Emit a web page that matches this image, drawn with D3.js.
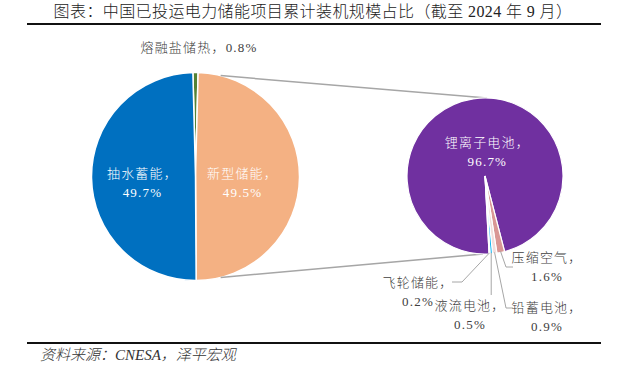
<!DOCTYPE html>
<html>
<head>
<meta charset="utf-8">
<script src="https://cdn.jsdelivr.net/npm/d3@7"></script>
<style>
  body { margin: 0; background: #fff; }
  text { font-family: "Liberation Serif", "Noto Sans CJK SC", serif; font-weight: 300; }
</style>
</head>
<body>
<div id="chart"></div>
<script>
// data (percent)
const mainCats = ["熔融盐储热", "新型储能", "抽水蓄能"];
const mainVals = [0.8, 49.5, 49.7];
const subCats = ["锂离子电池", "压缩空气", "铅蓄电池", "液流电池", "飞轮储能"];
const subVals = [96.7, 1.6, 0.9, 0.5, 0.2];

const title = "图表：中国已投运电力储能项目累计装机规模占比（截至 2024 年 9 月）";
const source = "资料来源：CNESA，泽平宏观";

const mainColors = ["#548235", "#F4B183", "#0070C0"];
const subColors = ["#7030A0", "#D99694", "#F2DCDB", "#00B0F0", "#BFBFBF"];

const W = 633, H = 381;
const svg = d3.select("#chart").append("svg")
  .attr("width", W).attr("height", H)
  .style("background", "#fff");

// title + rules
svg.append("text")
  .attr("x", 313).attr("y", 17)
  .attr("text-anchor", "middle")
  .attr("font-size", 16)
  .attr("letter-spacing", 0.4)
  .attr("fill", "#222")
  .text(title);
svg.append("line").attr("x1", 27).attr("x2", 601).attr("y1", 24).attr("y2", 24)
  .attr("stroke", "#111").attr("stroke-width", 2);
svg.append("line").attr("x1", 27).attr("x2", 601).attr("y1", 343).attr("y2", 343)
  .attr("stroke", "#111").attr("stroke-width", 2);
svg.append("text")
  .attr("x", 40).attr("y", 360)
  .attr("font-size", 15)
  .attr("font-style", "italic")
  .attr("fill", "#333")
  .text(source);

// left pie
const L = {cx: 195.5, cy: 176.5, r: 104};
const mainStart = -(mainVals[0] / 100) * Math.PI;
const mainPie = d3.pie().sort(null).value(d => d)
  .startAngle(mainStart).endAngle(mainStart + 2 * Math.PI);
const mainArcs = mainPie(mainVals);
const mainArc = d3.arc().innerRadius(0).outerRadius(L.r);

const gL = svg.append("g").attr("transform", `translate(${L.cx},${L.cy})`);

// right pie
const R = {cx: 485, cy: 176, r: 78};
const subStart = Math.PI * 177 / 180;
const subPie = d3.pie().sort(null).value(d => d)
  .startAngle(subStart).endAngle(subStart + 2 * Math.PI);
const subArcs = subPie(subVals);
const subArc = d3.arc().innerRadius(0).outerRadius(R.r);

// connector lines between the new-storage slice and the second pie
const pt = (c, r, a) => [c.cx + r * Math.sin(a), c.cy - r * Math.cos(a)];
const conA = 14 * Math.PI / 180;
const conn = [
  [pt(L, L.r, conA), pt(R, R.r, 1.5 * Math.PI / 180)],
  [pt(L, L.r, Math.PI - conA), pt(R, R.r, Math.PI + 1.5 * Math.PI / 180)]
];
svg.selectAll("line.conn").data(conn).join("line")
  .attr("class", "conn")
  .attr("x1", d => d[0][0]).attr("y1", d => d[0][1])
  .attr("x2", d => d[1][0]).attr("y2", d => d[1][1])
  .attr("stroke", "#A6A6A6").attr("stroke-width", 1.5);

gL.selectAll("path").data(mainArcs).join("path")
  .attr("d", mainArc)
  .attr("fill", (d, i) => mainColors[i])
  .attr("stroke", "#fff").attr("stroke-width", 1.5);

const gR = svg.append("g").attr("transform", `translate(${R.cx},${R.cy})`);
gR.selectAll("path").data(subArcs).join("path")
  .attr("d", subArc)
  .attr("fill", (d, i) => subColors[i])
  .attr("stroke", "#fff").attr("stroke-width", 1.2);

const fmt = v => v.toFixed(1) + "%";

// two-line "name，/ value" labels
function twoLine(g, x, y, name, val, color, anchor) {
  const t = g.append("text")
    .attr("font-size", 13)
    .attr("letter-spacing", 1.2)
    .attr("fill", color)
    .attr("text-anchor", anchor || "middle");
  t.append("tspan").attr("x", x).attr("y", y).text(name + "，");
  t.append("tspan").attr("x", x).attr("y", y + 19).text(val);
}

const inner = d3.arc().innerRadius(0).outerRadius(L.r * 1.02);
[1, 2].forEach(i => {
  const c = inner.centroid(mainArcs[i]);
  twoLine(gL, c[0] + (i === 1 ? -6 : 0), c[1] + 1, mainCats[i], fmt(mainVals[i]), "#fff");
});
svg.append("text")
  .attr("x", 199).attr("y", 52)
  .attr("text-anchor", "middle")
  .attr("font-size", 13)
  .attr("letter-spacing", 1.2)
  .attr("fill", "#404040")
  .text(mainCats[0] + "，" + fmt(mainVals[0]));

const subInner = d3.arc().innerRadius(0).outerRadius(R.r * 0.28);
const sc = subInner.centroid(subArcs[0]);
twoLine(gR, sc[0] + 4, -29, subCats[0], fmt(subVals[0]), "#fff");

// outside labels for the small slices
const subLabel = [
  null,
  {elbow: [506, 267], end: [513, 267], tx: 547, ty: 262},
  {elbow: [506, 308], end: [513, 308], tx: 547, ty: 312},
  {elbow: null, end: [487, 295], tx: 470, ty: 310},
  {elbow: [462, 282], end: [452, 282], tx: 418, ty: 287}
];
subArcs.forEach((d, i) => {
  const s = subLabel[i];
  if (!s) return;
  const mid = (d.startAngle + d.endAngle) / 2;
  const p0 = pt(R, R.r - 1, mid);
  const pts = [p0];
  if (s.elbow) pts.push(s.elbow); else pts.push([p0[0], s.end[1]]);
  if (s.elbow) pts.push(s.end);
  svg.append("path")
    .attr("d", d3.line()(pts))
    .attr("fill", "none")
    .attr("stroke", "#A6A6A6").attr("stroke-width", 1);
  twoLine(svg, s.tx, s.ty, subCats[i], fmt(subVals[i]), "#404040");
});
</script>
</body>
</html>
